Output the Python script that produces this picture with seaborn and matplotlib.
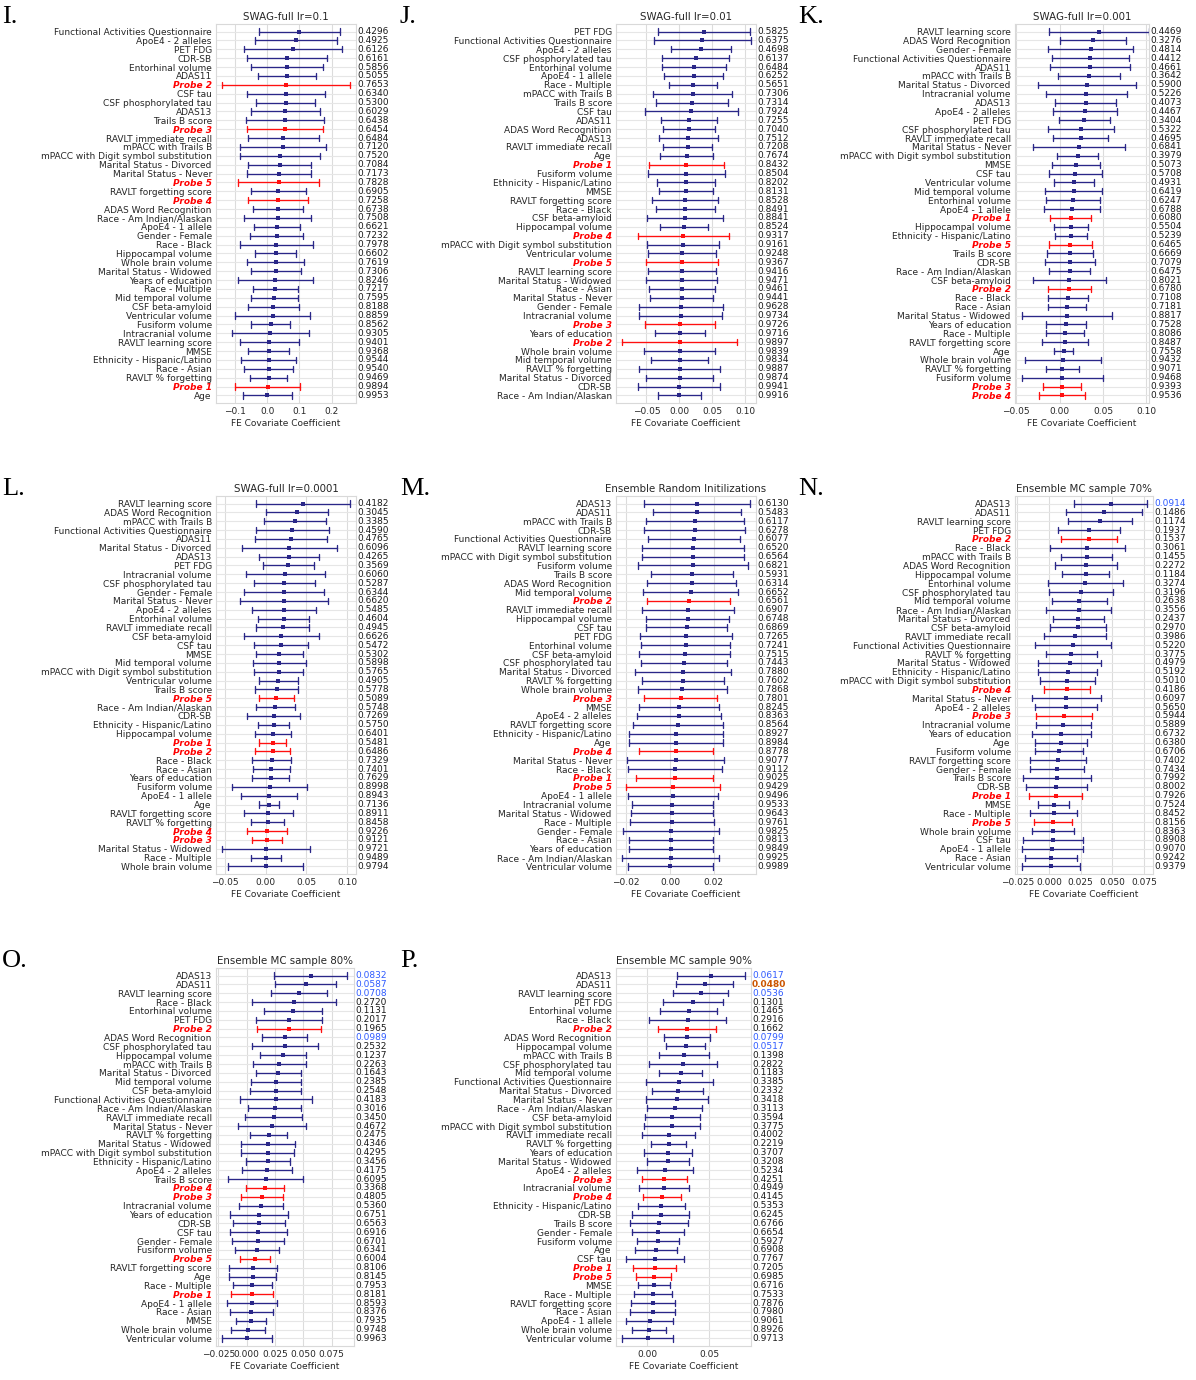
import numpy as np
import pandas as pd
import matplotlib
matplotlib.use("Agg")
import matplotlib.pyplot as plt
import matplotlib.transforms as mtransforms
import seaborn as sns

# ---------------- data ----------------
I_labels = ["Functional Activities Questionnaire", "ApoE4 - 2 alleles", "PET FDG", "CDR-SB", "Entorhinal volume", "ADAS11", "Probe 2", "CSF tau", "CSF phosphorylated tau", "ADAS13", "Trails B score", "Probe 3", "RAVLT immediate recall", "mPACC with Trails B", "mPACC with Digit symbol substitution", "Marital Status - Divorced", "Marital Status - Never", "Probe 5", "RAVLT forgetting score", "Probe 4", "ADAS Word Recognition", "Race - Am Indian/Alaskan", "ApoE4 - 1 allele", "Gender - Female", "Race - Black", "Hippocampal volume", "Whole brain volume", "Marital Status - Widowed", "Years of education", "Race - Multiple", "Mid temporal volume", "CSF beta-amyloid", "Ventricular volume", "Fusiform volume", "Intracranial volume", "RAVLT learning score", "MMSE", "Ethnicity - Hispanic/Latino", "Race - Asian", "RAVLT % forgetting", "Probe 1", "Age"]
I_coef = [0.100, 0.089, 0.079, 0.062, 0.062, 0.060, 0.058, 0.058, 0.057, 0.056, 0.055, 0.055, 0.050, 0.050, 0.039, 0.038, 0.037, 0.035, 0.034, 0.034, 0.034, 0.032, 0.031, 0.029, 0.028, 0.026, 0.026, 0.026, 0.025, 0.025, 0.022, 0.018, 0.016, 0.010, 0.009, 0.006, 0.004, 0.004, 0.004, 0.004, 0.001, 0.000]
I_err = [0.125, 0.128, 0.152, 0.124, 0.112, 0.090, 0.198, 0.123, 0.091, 0.108, 0.121, 0.119, 0.110, 0.134, 0.125, 0.099, 0.100, 0.125, 0.085, 0.094, 0.078, 0.104, 0.072, 0.082, 0.114, 0.063, 0.089, 0.078, 0.117, 0.070, 0.072, 0.079, 0.117, 0.061, 0.120, 0.091, 0.064, 0.085, 0.077, 0.058, 0.101, 0.076]
I_pval = [0.4296, 0.4925, 0.6126, 0.6161, 0.5856, 0.5055, 0.7653, 0.6340, 0.5300, 0.6029, 0.6438, 0.6454, 0.6484, 0.7120, 0.7520, 0.7084, 0.7173, 0.7828, 0.6905, 0.7258, 0.6738, 0.7508, 0.6621, 0.7232, 0.7978, 0.6602, 0.7619, 0.7306, 0.8246, 0.7217, 0.7595, 0.8188, 0.8859, 0.8562, 0.9305, 0.9401, 0.9368, 0.9544, 0.9540, 0.9469, 0.9894, 0.9953]

J_labels = ["PET FDG", "Functional Activities Questionnaire", "ApoE4 - 2 alleles", "CSF phosphorylated tau", "Entorhinal volume", "ApoE4 - 1 allele", "Race - Multiple", "mPACC with Trails B", "Trails B score", "CSF tau", "ADAS11", "ADAS Word Recognition", "ADAS13", "RAVLT immediate recall", "Age", "Probe 1", "Fusiform volume", "Ethnicity - Hispanic/Latino", "MMSE", "RAVLT forgetting score", "Race - Black", "CSF beta-amyloid", "Hippocampal volume", "Probe 4", "mPACC with Digit symbol substitution", "Ventricular volume", "Probe 5", "RAVLT learning score", "Marital Status - Widowed", "Race - Asian", "Marital Status - Never", "Gender - Female", "Intracranial volume", "Probe 3", "Years of education", "Probe 2", "Whole brain volume", "Mid temporal volume", "RAVLT % forgetting", "Marital Status - Divorced", "CDR-SB", "Race - Am Indian/Alaskan"]
J_coef = [0.0374, 0.0348, 0.0328, 0.0247, 0.0217, 0.0217, 0.0207, 0.0202, 0.0187, 0.0182, 0.0146, 0.0146, 0.0136, 0.0126, 0.0111, 0.0106, 0.0106, 0.0096, 0.0096, 0.0091, 0.0086, 0.0086, 0.0066, 0.0056, 0.0056, 0.0045, 0.0040, 0.0035, 0.0035, 0.0035, 0.0035, 0.0025, 0.0020, 0.0015, 0.0010, 0.0005, 0.0005, 0.0005, 0.0005, 0.0005, 0.0000, 0.0000]
J_err = [0.0692, 0.0740, 0.0460, 0.0505, 0.0487, 0.0444, 0.0366, 0.0596, 0.0548, 0.0705, 0.0427, 0.0390, 0.0450, 0.0370, 0.0400, 0.0570, 0.0586, 0.0437, 0.0410, 0.0500, 0.0447, 0.0580, 0.0360, 0.0690, 0.0540, 0.0515, 0.0550, 0.0515, 0.0540, 0.0500, 0.0480, 0.0630, 0.0630, 0.0530, 0.0380, 0.0870, 0.0540, 0.0430, 0.0610, 0.0510, 0.0620, 0.0320]
J_pval = [0.5825, 0.6375, 0.4698, 0.6137, 0.6484, 0.6252, 0.5651, 0.7306, 0.7314, 0.7924, 0.7255, 0.7040, 0.7512, 0.7208, 0.7674, 0.8432, 0.8504, 0.8202, 0.8131, 0.8528, 0.8491, 0.8841, 0.8524, 0.9317, 0.9161, 0.9248, 0.9367, 0.9416, 0.9471, 0.9461, 0.9441, 0.9628, 0.9734, 0.9726, 0.9716, 0.9897, 0.9839, 0.9834, 0.9887, 0.9874, 0.9941, 0.9916]

K_labels = ["RAVLT learning score", "ADAS Word Recognition", "Gender - Female", "Functional Activities Questionnaire", "ADAS11", "mPACC with Trails B", "Marital Status - Divorced", "Intracranial volume", "ADAS13", "ApoE4 - 2 alleles", "PET FDG", "CSF phosphorylated tau", "RAVLT immediate recall", "Marital Status - Never", "mPACC with Digit symbol substitution", "MMSE", "CSF tau", "Ventricular volume", "Mid temporal volume", "Entorhinal volume", "ApoE4 - 1 allele", "Probe 1", "Hippocampal volume", "Ethnicity - Hispanic/Latino", "Probe 5", "Trails B score", "CDR-SB", "Race - Am Indian/Alaskan", "CSF beta-amyloid", "Probe 2", "Race - Black", "Race - Asian", "Marital Status - Widowed", "Years of education", "Race - Multiple", "RAVLT forgetting score", "Age", "Whole brain volume", "RAVLT % forgetting", "Fusiform volume", "Probe 3", "Probe 4"]
K_coef = [0.0450, 0.0385, 0.0358, 0.0354, 0.0350, 0.0338, 0.0315, 0.0308, 0.0300, 0.0292, 0.0285, 0.0246, 0.0242, 0.0223, 0.0208, 0.0188, 0.0180, 0.0165, 0.0162, 0.0158, 0.0146, 0.0127, 0.0127, 0.0127, 0.0123, 0.0119, 0.0115, 0.0115, 0.0112, 0.0112, 0.0096, 0.0088, 0.0088, 0.0077, 0.0062, 0.0062, 0.0046, 0.0038, 0.0031, 0.0031, 0.0027, 0.0027]
K_err = [0.0575, 0.0380, 0.0490, 0.0440, 0.0460, 0.0360, 0.0570, 0.0470, 0.0350, 0.0370, 0.0290, 0.0380, 0.0315, 0.0527, 0.0237, 0.0273, 0.0306, 0.0229, 0.0329, 0.0310, 0.0323, 0.0235, 0.0198, 0.0185, 0.0250, 0.0263, 0.0287, 0.0233, 0.0417, 0.0244, 0.0235, 0.0217, 0.0520, 0.0230, 0.0217, 0.0265, 0.0110, 0.0435, 0.0192, 0.0470, 0.0220, 0.0265]
K_pval = [0.4469, 0.3276, 0.4814, 0.4412, 0.4661, 0.3642, 0.5900, 0.5226, 0.4073, 0.4467, 0.3404, 0.5322, 0.4695, 0.6841, 0.3979, 0.5073, 0.5708, 0.4931, 0.6419, 0.6247, 0.6788, 0.6080, 0.5504, 0.5239, 0.6465, 0.6669, 0.7079, 0.6475, 0.8021, 0.6780, 0.7108, 0.7181, 0.8817, 0.7528, 0.8086, 0.8487, 0.7558, 0.9432, 0.9071, 0.9468, 0.9393, 0.9536]

L_labels = ["RAVLT learning score", "ADAS Word Recognition", "mPACC with Trails B", "Functional Activities Questionnaire", "ADAS11", "Marital Status - Divorced", "ADAS13", "PET FDG", "Intracranial volume", "CSF phosphorylated tau", "Gender - Female", "Marital Status - Never", "ApoE4 - 2 alleles", "Entorhinal volume", "RAVLT immediate recall", "CSF beta-amyloid", "CSF tau", "MMSE", "Mid temporal volume", "mPACC with Digit symbol substitution", "Ventricular volume", "Trails B score", "Probe 5", "Race - Am Indian/Alaskan", "CDR-SB", "Ethnicity - Hispanic/Latino", "Hippocampal volume", "Probe 1", "Probe 2", "Race - Black", "Race - Asian", "Years of education", "Fusiform volume", "ApoE4 - 1 allele", "Age", "RAVLT forgetting score", "RAVLT % forgetting", "Probe 4", "Probe 3", "Marital Status - Widowed", "Race - Multiple", "Whole brain volume"]
L_coef = [0.0463, 0.0381, 0.0357, 0.0328, 0.0311, 0.0291, 0.0283, 0.0279, 0.0242, 0.0230, 0.0225, 0.0225, 0.0225, 0.0221, 0.0209, 0.0193, 0.0193, 0.0168, 0.0168, 0.0160, 0.0156, 0.0139, 0.0131, 0.0119, 0.0102, 0.0098, 0.0094, 0.0090, 0.0086, 0.0074, 0.0066, 0.0061, 0.0049, 0.0037, 0.0037, 0.0033, 0.0025, 0.0016, 0.0012, 0.0008, 0.0004, 0.0000]
L_err = [0.0578, 0.0379, 0.0379, 0.0451, 0.0445, 0.0582, 0.0367, 0.0310, 0.0486, 0.0379, 0.0496, 0.0540, 0.0390, 0.0314, 0.0322, 0.0465, 0.0332, 0.0285, 0.0326, 0.0301, 0.0238, 0.0264, 0.0213, 0.0236, 0.0326, 0.0190, 0.0219, 0.0166, 0.0213, 0.0240, 0.0227, 0.0230, 0.0465, 0.0342, 0.0121, 0.0303, 0.0199, 0.0246, 0.0184, 0.0540, 0.0189, 0.0461]
L_pval = [0.4182, 0.3045, 0.3385, 0.4590, 0.4765, 0.6096, 0.4265, 0.3569, 0.6060, 0.5287, 0.6344, 0.6620, 0.5485, 0.4604, 0.4945, 0.6626, 0.5472, 0.5302, 0.5898, 0.5765, 0.4905, 0.5778, 0.5089, 0.5748, 0.7269, 0.5750, 0.6401, 0.5481, 0.6486, 0.7329, 0.7401, 0.7629, 0.8998, 0.8943, 0.7136, 0.8911, 0.8458, 0.9226, 0.9121, 0.9721, 0.9489, 0.9794]

M_labels = ["ADAS13", "ADAS11", "mPACC with Trails B", "CDR-SB", "Functional Activities Questionnaire", "RAVLT learning score", "mPACC with Digit symbol substitution", "Fusiform volume", "Trails B score", "ADAS Word Recognition", "Mid temporal volume", "Probe 2", "RAVLT immediate recall", "Hippocampal volume", "CSF tau", "PET FDG", "Entorhinal volume", "CSF beta-amyloid", "CSF phosphorylated tau", "Marital Status - Divorced", "RAVLT % forgetting", "Whole brain volume", "Probe 3", "MMSE", "ApoE4 - 2 alleles", "RAVLT forgetting score", "Ethnicity - Hispanic/Latino", "Age", "Probe 4", "Marital Status - Never", "Race - Black", "Probe 1", "Probe 5", "ApoE4 - 1 allele", "Intracranial volume", "Marital Status - Widowed", "Race - Multiple", "Gender - Female", "Race - Asian", "Years of education", "Race - Am Indian/Alaskan", "Ventricular volume"]
M_coef = [0.0125, 0.0124, 0.0115, 0.0113, 0.0110, 0.0107, 0.0105, 0.0104, 0.0101, 0.0099, 0.0095, 0.0085, 0.0084, 0.0081, 0.0076, 0.0073, 0.0072, 0.0067, 0.0066, 0.0060, 0.0060, 0.0056, 0.0049, 0.0041, 0.0041, 0.0038, 0.0029, 0.0027, 0.0027, 0.0026, 0.0023, 0.0021, 0.0015, 0.0014, 0.0011, 0.0009, 0.0008, 0.0006, 0.0005, 0.0005, 0.0003, 0.0002]
M_err = [0.0243, 0.0203, 0.0224, 0.0230, 0.0211, 0.0234, 0.0233, 0.0252, 0.0188, 0.0205, 0.0218, 0.0189, 0.0210, 0.0191, 0.0187, 0.0211, 0.0205, 0.0210, 0.0197, 0.0218, 0.0188, 0.0204, 0.0168, 0.0183, 0.0192, 0.0206, 0.0216, 0.0214, 0.0169, 0.0222, 0.0216, 0.0176, 0.0215, 0.0205, 0.0185, 0.0189, 0.0192, 0.0220, 0.0192, 0.0192, 0.0221, 0.0193]
M_pval = [0.6130, 0.5483, 0.6117, 0.6278, 0.6077, 0.6520, 0.6564, 0.6821, 0.5931, 0.6314, 0.6652, 0.6561, 0.6907, 0.6748, 0.6869, 0.7265, 0.7241, 0.7515, 0.7443, 0.7880, 0.7602, 0.7868, 0.7801, 0.8245, 0.8363, 0.8564, 0.8927, 0.8984, 0.8778, 0.9077, 0.9112, 0.9025, 0.9429, 0.9496, 0.9533, 0.9643, 0.9761, 0.9825, 0.9813, 0.9849, 0.9925, 0.9989]

N_labels = ["ADAS13", "ADAS11", "RAVLT learning score", "PET FDG", "Probe 2", "Race - Black", "mPACC with Trails B", "ADAS Word Recognition", "Hippocampal volume", "Entorhinal volume", "CSF phosphorylated tau", "Mid temporal volume", "Race - Am Indian/Alaskan", "Marital Status - Divorced", "CSF beta-amyloid", "RAVLT immediate recall", "Functional Activities Questionnaire", "RAVLT % forgetting", "Marital Status - Widowed", "Ethnicity - Hispanic/Latino", "mPACC with Digit symbol substitution", "Probe 4", "Marital Status - Never", "ApoE4 - 2 alleles", "Probe 3", "Intracranial volume", "Years of education", "Age", "Fusiform volume", "RAVLT forgetting score", "Gender - Female", "Trails B score", "CDR-SB", "Probe 1", "MMSE", "Race - Multiple", "Probe 5", "Whole brain volume", "CSF tau", "ApoE4 - 1 allele", "Race - Asian", "Ventricular volume"]
N_coef = [0.0487, 0.0434, 0.0403, 0.0318, 0.0318, 0.0303, 0.0297, 0.0295, 0.0292, 0.0287, 0.0253, 0.0240, 0.0234, 0.0232, 0.0229, 0.0203, 0.0189, 0.0176, 0.0163, 0.0147, 0.0145, 0.0145, 0.0137, 0.0134, 0.0116, 0.0113, 0.0097, 0.0092, 0.0079, 0.0071, 0.0066, 0.0063, 0.0058, 0.0053, 0.0037, 0.0037, 0.0034, 0.0032, 0.0032, 0.0026, 0.0016, 0.0016]
N_err = [0.0289, 0.0299, 0.0255, 0.0245, 0.0220, 0.0297, 0.0205, 0.0246, 0.0186, 0.0296, 0.0254, 0.0216, 0.0254, 0.0201, 0.0224, 0.0245, 0.0300, 0.0200, 0.0246, 0.0233, 0.0218, 0.0180, 0.0274, 0.0242, 0.0221, 0.0216, 0.0233, 0.0205, 0.0189, 0.0221, 0.0213, 0.0266, 0.0240, 0.0209, 0.0125, 0.0187, 0.0149, 0.0166, 0.0240, 0.0242, 0.0204, 0.0230]
N_pval = [0.0914, 0.1486, 0.1174, 0.1937, 0.1537, 0.3061, 0.1455, 0.2272, 0.1184, 0.3274, 0.3196, 0.2638, 0.3556, 0.2437, 0.2970, 0.3986, 0.5220, 0.3775, 0.4979, 0.5192, 0.5010, 0.4186, 0.6097, 0.5650, 0.5944, 0.5889, 0.6732, 0.6380, 0.6706, 0.7402, 0.7434, 0.7992, 0.8002, 0.7926, 0.7524, 0.8452, 0.8156, 0.8363, 0.8908, 0.9070, 0.9242, 0.9379]

O_labels = ["ADAS13", "ADAS11", "RAVLT learning score", "Race - Black", "Entorhinal volume", "PET FDG", "Probe 2", "ADAS Word Recognition", "CSF phosphorylated tau", "Hippocampal volume", "mPACC with Trails B", "Marital Status - Divorced", "Mid temporal volume", "CSF beta-amyloid", "Functional Activities Questionnaire", "Race - Am Indian/Alaskan", "RAVLT immediate recall", "Marital Status - Never", "RAVLT % forgetting", "Marital Status - Widowed", "mPACC with Digit symbol substitution", "Ethnicity - Hispanic/Latino", "ApoE4 - 2 alleles", "Trails B score", "Probe 4", "Probe 3", "Intracranial volume", "Years of education", "CDR-SB", "CSF tau", "Gender - Female", "Fusiform volume", "Probe 5", "RAVLT forgetting score", "Age", "Race - Multiple", "Probe 1", "ApoE4 - 1 allele", "Race - Asian", "MMSE", "Whole brain volume", "Ventricular volume"]
O_coef = [0.0568, 0.0520, 0.0462, 0.0418, 0.0412, 0.0376, 0.0371, 0.0338, 0.0338, 0.0321, 0.0288, 0.0279, 0.0262, 0.0259, 0.0259, 0.0247, 0.0241, 0.0224, 0.0194, 0.0188, 0.0188, 0.0185, 0.0182, 0.0171, 0.0162, 0.0132, 0.0126, 0.0112, 0.0106, 0.0103, 0.0100, 0.0094, 0.0074, 0.0056, 0.0053, 0.0050, 0.0047, 0.0044, 0.0041, 0.0038, 0.0009, 0.0003]
O_err = [0.0322, 0.0272, 0.0247, 0.0374, 0.0256, 0.0293, 0.0282, 0.0199, 0.0293, 0.0204, 0.0232, 0.0199, 0.0219, 0.0225, 0.0316, 0.0237, 0.0251, 0.0300, 0.0165, 0.0235, 0.0234, 0.0194, 0.0221, 0.0331, 0.0165, 0.0185, 0.0197, 0.0256, 0.0229, 0.0253, 0.0228, 0.0193, 0.0135, 0.0212, 0.0209, 0.0174, 0.0187, 0.0221, 0.0188, 0.0129, 0.0151, 0.0224]
O_pval = [0.0832, 0.0587, 0.0708, 0.2720, 0.1131, 0.2017, 0.1965, 0.0989, 0.2532, 0.1237, 0.2263, 0.1643, 0.2385, 0.2548, 0.4183, 0.3016, 0.3450, 0.4672, 0.2475, 0.4346, 0.4295, 0.3456, 0.4175, 0.6095, 0.3368, 0.4805, 0.5360, 0.6751, 0.6563, 0.6916, 0.6701, 0.6341, 0.6004, 0.8106, 0.8145, 0.7953, 0.8181, 0.8593, 0.8376, 0.7935, 0.9748, 0.9963]

P_labels = ["ADAS13", "ADAS11", "RAVLT learning score", "PET FDG", "Entorhinal volume", "Race - Black", "Probe 2", "ADAS Word Recognition", "Hippocampal volume", "mPACC with Trails B", "CSF phosphorylated tau", "Mid temporal volume", "Functional Activities Questionnaire", "Marital Status - Divorced", "Marital Status - Never", "Race - Am Indian/Alaskan", "CSF beta-amyloid", "mPACC with Digit symbol substitution", "RAVLT immediate recall", "RAVLT % forgetting", "Years of education", "Marital Status - Widowed", "ApoE4 - 2 alleles", "Probe 3", "Intracranial volume", "Probe 4", "Ethnicity - Hispanic/Latino", "CDR-SB", "Trails B score", "Gender - Female", "Fusiform volume", "Age", "CSF tau", "Probe 1", "Probe 5", "MMSE", "Race - Multiple", "RAVLT forgetting score", "Race - Asian", "ApoE4 - 1 allele", "Whole brain volume", "Ventricular volume"]
P_coef = [0.0516, 0.0465, 0.0435, 0.0371, 0.0336, 0.0328, 0.0325, 0.0323, 0.0312, 0.0301, 0.0293, 0.0272, 0.0261, 0.0247, 0.0242, 0.0223, 0.0204, 0.0199, 0.0177, 0.0175, 0.0169, 0.0169, 0.0145, 0.0140, 0.0137, 0.0121, 0.0116, 0.0110, 0.0099, 0.0091, 0.0089, 0.0070, 0.0065, 0.0062, 0.0054, 0.0054, 0.0048, 0.0048, 0.0046, 0.0022, 0.0019, 0.0005]
P_err = [0.0274, 0.0231, 0.0222, 0.0242, 0.0230, 0.0308, 0.0234, 0.0183, 0.0159, 0.0203, 0.0273, 0.0172, 0.0273, 0.0207, 0.0254, 0.0223, 0.0222, 0.0226, 0.0214, 0.0142, 0.0191, 0.0172, 0.0228, 0.0179, 0.0202, 0.0151, 0.0190, 0.0228, 0.0235, 0.0211, 0.0171, 0.0169, 0.0231, 0.0175, 0.0142, 0.0128, 0.0156, 0.0180, 0.0181, 0.0188, 0.0138, 0.0206]
P_pval = [0.0617, 0.0480, 0.0536, 0.1301, 0.1465, 0.2916, 0.1662, 0.0799, 0.0517, 0.1398, 0.2822, 0.1183, 0.3385, 0.2332, 0.3418, 0.3113, 0.3594, 0.3775, 0.4002, 0.2219, 0.3707, 0.3208, 0.5234, 0.4251, 0.4949, 0.4145, 0.5353, 0.6245, 0.6766, 0.6654, 0.5927, 0.6908, 0.7767, 0.7205, 0.6985, 0.6716, 0.7533, 0.7876, 0.7980, 0.9061, 0.8926, 0.9713]

panel_letters = ["I.", "J.", "K.", "L.", "M.", "N.", "O.", "P."]
panel_titles = ["SWAG-full lr=0.1", "SWAG-full lr=0.01", "SWAG-full lr=0.001", "SWAG-full lr=0.0001",
                "Ensemble Random Initilizations", "Ensemble MC sample 70%",
                "Ensemble MC sample 80%", "Ensemble MC sample 90%"]
panel_xticks = [[-0.1, 0.0, 0.1, 0.2], [-0.05, 0.0, 0.05, 0.10], [-0.05, 0.0, 0.05, 0.10],
                [-0.05, 0.0, 0.05, 0.10], [-0.02, 0.0, 0.02], [-0.025, 0.0, 0.025, 0.05, 0.075],
                [-0.025, 0.0, 0.025, 0.05, 0.075], [0.0, 0.05]]

# ---------------- style / layout ----------------
sns.set_theme(style="whitegrid")
plt.rcParams["font.family"] = ["DejaVu Sans"]

W, H = 1196, 1380
fig = plt.figure(figsize=(W / 100, H / 100), dpi=100)

NAVY = "#2a2788"
RED = "#ff1010"
TICK_FS = 6.5

# axes rectangles in pixels: left, top, right, bottom
rects = [(216, 24, 356, 403), (616, 24, 756, 403), (1015, 24, 1149, 403),
         (216, 496, 356, 874), (616, 496, 756, 874), (1015, 496, 1153, 874),
         (216, 968, 354, 1346), (616, 968, 751, 1346)]
xlims = [(-0.16, 0.276), (-0.096, 0.116), (-0.0515, 0.103), (-0.061, 0.111),
         (-0.0247, 0.0394), (-0.0268, 0.0822), (-0.027, 0.0948), (-0.025, 0.0839)]
letter_pos = [(2, 6), (400, 6), (798, 6), (2, 478), (400, 478), (798, 478), (2, 950), (400, 950)]

panels = [
    (I_labels, I_coef, I_err, I_pval),
    (J_labels, J_coef, J_err, J_pval),
    (K_labels, K_coef, K_err, K_pval),
    (L_labels, L_coef, L_err, L_pval),
    (M_labels, M_coef, M_err, M_pval),
    (N_labels, N_coef, N_err, N_pval),
    (O_labels, O_coef, O_err, O_pval),
    (P_labels, P_coef, P_err, P_pval),
]


def draw_panel(ax, labels, coef, err, pval, title, xlim, xticks, width_px):
    rows = []
    for lab, m, e in zip(labels, coef, err):
        for v in (m - e, m, m + e):
            rows.append({"label": lab, "value": v, "probe": lab.startswith("Probe")})
    df = pd.DataFrame(rows)
    for is_probe, col in ((False, NAVY), (True, RED)):
        sub = df[df["probe"] == is_probe]
        sns.pointplot(data=sub, x="value", y="label", order=labels,
                      estimator="median", errorbar=("pi", 100),
                      color=col, linestyle="none", marker="s",
                      markersize=2.4, markeredgewidth=0, linewidth=0.95,
                      capsize=0.7, err_kws={"linewidth": 0.95}, ax=ax)
    n = len(labels)
    ax.set_ylim(n - 1 + 0.85, -0.85)
    ax.set_xticks(xticks)
    ax.set_xlim(*xlim)
    ax.yaxis.grid(True, color="#e6e6e6", linewidth=0.8)
    ax.xaxis.grid(True, color="#dcdcdc", linewidth=0.8)
    ax.set_axisbelow(True)
    ax.set_ylabel("")
    ax.set_xlabel("FE Covariate Coefficient", fontsize=TICK_FS, labelpad=2)
    ax.set_title(title, fontsize=7.4, pad=3)
    ax.tick_params(axis="both", labelsize=TICK_FS, length=0)
    ax.tick_params(axis="y", pad=3)
    ax.tick_params(axis="x", pad=3)
    for sp in ax.spines.values():
        sp.set_color("#d9d9d9")
        sp.set_linewidth(0.8)
    for tl in ax.get_yticklabels():
        if tl.get_text().startswith("Probe"):
            tl.set_color("red")
            tl.set_fontweight("bold")
            tl.set_fontstyle("italic")
    trans = mtransforms.blended_transform_factory(ax.transAxes, ax.transData)
    for i, p in enumerate(pval):
        if p < 0.05:
            kw = dict(color="#cc5500", fontweight="bold")
        elif p < 0.1:
            kw = dict(color="#2f5bff")
        else:
            kw = dict(color="#1a1a1a")
        ax.text(1.0 + 1.0 / width_px, i, f"{p:.4f}", transform=trans,
                ha="left", va="center", fontsize=TICK_FS, **kw)


for (labels, coef, err, pval), title, xlim, xt, r, lp, letter in zip(
        panels, panel_titles, xlims, panel_xticks, rects, letter_pos, panel_letters):
    l, t, rr, b = r
    ax = fig.add_axes([l / W, 1 - b / H, (rr - l) / W, (b - t) / H])
    draw_panel(ax, labels, coef, err, pval, title, xlim, xt, rr - l)
    fig.text(lp[0] / W, 1 - lp[1] / H, letter, ha="left", va="top",
             fontsize=19, family="Liberation Serif", color="black")

fig.savefig("out.png", dpi=100, facecolor="white")
